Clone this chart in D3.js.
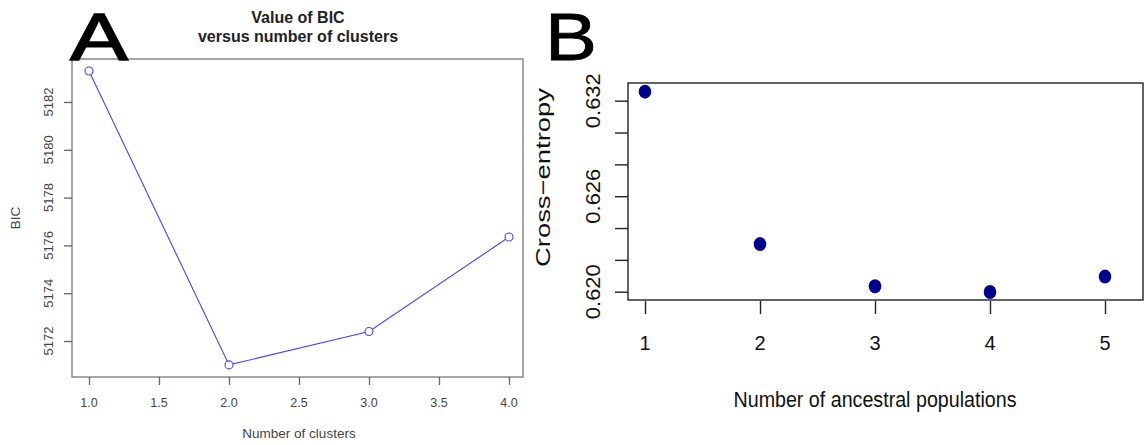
<!DOCTYPE html>
<html>
<head>
<meta charset="utf-8">
<script src="https://cdn.jsdelivr.net/npm/d3@7"></script>
<style>
  body { margin: 0; background: #fff; }
  svg { display: block; font-family: "Liberation Sans", Arial, Helvetica, sans-serif; }
</style>
</head>
<body>
<div class="plot"></div>
<script>
// panel A: BIC vs number of clusters
const clusters = [1, 2, 3, 4];
const bicValues = [5183.3, 5171.0, 5172.4, 5176.35];
const xTicksA = [1.0, 1.5, 2.0, 2.5, 3.0, 3.5, 4.0];
const yTicksA = [5172, 5174, 5176, 5178, 5180, 5182];

// panel B: cross-entropy vs K
const ancestral = [1, 2, 3, 4, 5];
const crossEntropy = [0.63257, 0.62299, 0.62034, 0.61998, 0.62095];
const yTicksB = [0.620, 0.622, 0.624, 0.626, 0.628, 0.630, 0.632];
const yLabelsB = [0.620, 0.626, 0.632];

let width = 1144, height = 445;

let svg = d3.select(".plot").append("svg")
    .attr("width", width)
    .attr("height", height);

// ---------- panel A ----------
let boxA = {left: 72, right: 523, top: 59, bottom: 377};

let xA = d3.scaleLinear().domain([1, 4]).range([89, 509]);
let yA = d3.scaleLinear().domain([5172, 5182]).range([341, 102]);

let gA = svg.append("g").attr("class", "panel-a");

gA.append("rect")
    .attr("x", boxA.left).attr("y", boxA.top)
    .attr("width", boxA.right - boxA.left)
    .attr("height", boxA.bottom - boxA.top)
    .attr("fill", "none")
    .attr("stroke", "#777")
    .attr("stroke-width", 1.3);

gA.append("g")
    .attr("transform", "translate(0," + boxA.bottom + ")")
    .call(d3.axisBottom(xA).tickValues(xTicksA).tickSize(8).tickFormat(""))
    .call(g => g.select(".domain").remove())
    .call(g => g.selectAll(".tick line").attr("stroke", "#666").attr("stroke-width", 1.3));

gA.selectAll(".xlabA")
    .data(xTicksA)
    .enter().append("text")
    .attr("x", d => xA(d))
    .attr("y", 406.5)
    .attr("text-anchor", "middle")
    .attr("font-size", 12.5)
    .attr("fill", "#444")
    .text(d => d3.format(".1f")(d));

gA.append("g")
    .attr("transform", "translate(" + boxA.left + ",0)")
    .call(d3.axisLeft(yA).tickValues(yTicksA).tickSize(8).tickFormat(""))
    .call(g => g.select(".domain").remove())
    .call(g => g.selectAll(".tick line").attr("stroke", "#666").attr("stroke-width", 1.3));

gA.selectAll(".ylabA")
    .data(yTicksA)
    .enter().append("text")
    .attr("transform", d => "translate(53," + yA(d) + ") rotate(-90)")
    .attr("text-anchor", "middle")
    .attr("font-size", 13)
    .attr("fill", "#444")
    .text(d => d);

let lineA = d3.line()
    .x((d, i) => xA(clusters[i]))
    .y(d => yA(d));

gA.append("path")
    .datum(bicValues)
    .attr("d", lineA)
    .attr("fill", "none")
    .attr("stroke", "#4444ff")
    .attr("stroke-width", 1.1);

gA.selectAll(".ptA")
    .data(bicValues)
    .enter().append("circle")
    .attr("cx", (d, i) => xA(clusters[i]))
    .attr("cy", d => yA(d))
    .attr("r", 4)
    .attr("fill", "#fff")
    .attr("stroke", "#4444ff")
    .attr("stroke-width", 1.1);

gA.append("text")
    .attr("x", 298).attr("y", 23)
    .attr("text-anchor", "middle")
    .attr("font-size", 16).attr("font-weight", "bold")
    .attr("fill", "#222")
    .text("Value of BIC");
gA.append("text")
    .attr("x", 298).attr("y", 41.5)
    .attr("text-anchor", "middle")
    .attr("font-size", 16).attr("font-weight", "bold")
    .attr("fill", "#222")
    .text("versus number of clusters");

gA.append("text")
    .attr("x", 299).attr("y", 438)
    .attr("text-anchor", "middle")
    .attr("font-size", 13.5)
    .attr("fill", "#444")
    .text("Number of clusters");

gA.append("text")
    .attr("transform", "translate(20,218) rotate(-90)")
    .attr("text-anchor", "middle")
    .attr("font-size", 13.5)
    .attr("fill", "#444")
    .text("BIC");

// big panel letter A
svg.append("text")
    .attr("x", 70).attr("y", 60)
    .attr("font-size", 66)
    .attr("textLength", 58)
    .attr("lengthAdjust", "spacingAndGlyphs")
    .attr("fill", "#000")
    .attr("stroke", "#000").attr("stroke-width", 1.4)
    .text("A");

// ---------- panel B ----------
let boxB = {left: 628, right: 1143, top: 83, bottom: 300};

let xB = d3.scaleLinear().domain([1, 5]).range([645, 1105]);
let yB = d3.scaleLinear().domain([0.620, 0.632]).range([291.7, 100.7]);

let gB = svg.append("g").attr("class", "panel-b");

gB.append("rect")
    .attr("x", boxB.left).attr("y", boxB.top)
    .attr("width", boxB.right - boxB.left)
    .attr("height", boxB.bottom - boxB.top)
    .attr("fill", "none")
    .attr("stroke", "#222")
    .attr("stroke-width", 1.4);

gB.append("g")
    .attr("transform", "translate(0," + (boxB.bottom + 1) + ")")
    .call(d3.axisBottom(xB).tickValues(ancestral).tickSize(13).tickFormat(""))
    .call(g => g.select(".domain").remove())
    .call(g => g.selectAll(".tick line").attr("stroke", "#222").attr("stroke-width", 1.4));

gB.selectAll(".xlabB")
    .data(ancestral)
    .enter().append("text")
    .attr("x", d => xB(d))
    .attr("y", 350)
    .attr("text-anchor", "middle")
    .attr("font-size", 20)
    .attr("fill", "#111")
    .text(d => d);

gB.append("g")
    .attr("transform", "translate(" + boxB.left + ",0)")
    .call(d3.axisLeft(yB).tickValues(yTicksB).tickSize(13).tickFormat(""))
    .call(g => g.select(".domain").remove())
    .call(g => g.selectAll(".tick line").attr("stroke", "#222").attr("stroke-width", 1.4));

gB.selectAll(".ylabB")
    .data(yLabelsB)
    .enter().append("text")
    .attr("transform", d => "translate(600," + yB(d) + ") rotate(-90)")
    .attr("text-anchor", "middle")
    .attr("font-size", 21)
    .attr("textLength", 55)
    .attr("lengthAdjust", "spacingAndGlyphs")
    .attr("fill", "#111")
    .text(d => d3.format(".3f")(d));

gB.selectAll(".ptB")
    .data(crossEntropy)
    .enter().append("ellipse")
    .attr("cx", (d, i) => xB(ancestral[i]))
    .attr("cy", d => yB(d))
    .attr("rx", 6.3)
    .attr("ry", 7)
    .attr("fill", "#00008f");

gB.append("text")
    .attr("x", 875).attr("y", 407)
    .attr("text-anchor", "middle")
    .attr("font-size", 22)
    .attr("textLength", 283)
    .attr("lengthAdjust", "spacingAndGlyphs")
    .attr("fill", "#111")
    .text("Number of ancestral populations");

gB.append("text")
    .attr("transform", "translate(550,177.5) rotate(-90)")
    .attr("text-anchor", "middle")
    .attr("font-size", 21)
    .attr("textLength", 179)
    .attr("lengthAdjust", "spacingAndGlyphs")
    .attr("fill", "#111")
    .text("Cross\u2212entropy");

// big panel letter B
svg.append("text")
    .attr("x", 545).attr("y", 60)
    .attr("font-size", 66)
    .attr("textLength", 52)
    .attr("lengthAdjust", "spacingAndGlyphs")
    .attr("fill", "#000")
    .attr("stroke", "#000").attr("stroke-width", 0.8)
    .text("B");
</script>
</body>
</html>
